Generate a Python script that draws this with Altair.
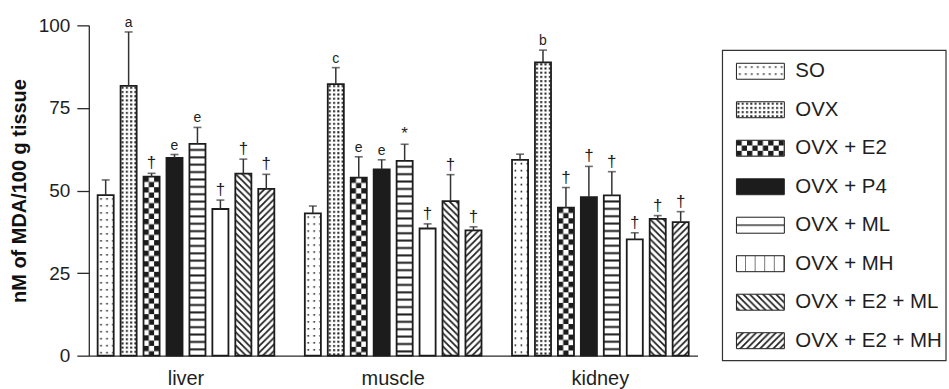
import base64

import altair as alt
import pandas as pd

# ---- data -------------------------------------------------------------
tissues = ["liver", "muscle", "kidney"]
groups = ["SO", "OVX", "OVX + E2", "OVX + P4", "OVX + ML", "OVX + MH",
          "OVX + E2 + ML", "OVX + E2 + MH"]

liver_mean = [48.6, 81.7, 54.2, 59.9, 64.1, 44.4, 55.1, 50.5]
liver_sem = [4.6, 16.3, 1.0, 1.0, 5.0, 2.7, 4.4, 4.4]
liver_sig = ["", "a", "†", "e", "e", "†", "†", "†"]

muscle_mean = [43.1, 82.2, 53.9, 56.4, 59.0, 38.5, 46.8, 37.9]
muscle_sem = [2.2, 5.0, 6.3, 2.9, 5.0, 1.4, 8.0, 1.1]
muscle_sig = ["", "c", "e", "e", "*", "†", "†", "†"]

kidney_mean = [59.3, 88.8, 44.8, 48.0, 48.5, 35.2, 41.4, 40.4]
kidney_sem = [1.7, 3.7, 6.1, 9.3, 7.2, 2.0, 1.0, 3.2]
kidney_sig = ["", "b", "†", "†", "†", "†", "†", "†"]

y_ticks = [0, 25, 50, 75, 100]

rows = []
for tissue, means, sems, sigs in [
    ("liver", liver_mean, liver_sem, liver_sig),
    ("muscle", muscle_mean, muscle_sem, muscle_sig),
    ("kidney", kidney_mean, kidney_sem, kidney_sig),
]:
    for g, m, s, sig in zip(groups, means, sems, sigs):
        rows.append({"tissue": tissue, "group": g, "mean": m, "sem": s, "sig": sig})
df = pd.DataFrame(rows)


# ---- hatch fills as small SVG tiles ---------------------------------------
def tile(w, h, body, bg="white"):
    svg = (
        "<svg xmlns='http://www.w3.org/2000/svg'>"
        f"<defs><pattern id='p' patternUnits='userSpaceOnUse' width='{w}' height='{h}'>"
        f"{body}</pattern></defs>"
        f"<rect width='100%' height='100%' fill='{bg}'/>"
        "<rect width='100%' height='100%' fill='url(#p)'/></svg>"
    )
    return "data:image/svg+xml;base64," + base64.b64encode(svg.encode()).decode()


INK = "#1c1c1c"
sparse_dots = tile(6.0, 7.0, f"<rect x='2.6' y='3' width='1.6' height='1.6' fill='{INK}'/>")
dense_dots = tile(4.3, 4.2, f"<rect x='1' y='1' width='2' height='2' fill='{INK}'/>")
checker = tile(10.6, 10.6, f"<rect x='0' y='0' width='5.3' height='5.3' fill='{INK}'/>"
                           f"<rect x='5.3' y='5.3' width='5.3' height='5.3' fill='{INK}'/>")
solid = tile(4, 4, f"<rect width='4' height='4' fill='{INK}'/>")
h_lines = tile(10, 7.4, f"<rect x='0' y='5' width='10' height='2' fill='{INK}'/>")
h_line_key = tile(10, 16, f"<rect x='0' y='7.3' width='10' height='1.3' fill='{INK}'/>")
blank = tile(4, 4, "")
v_lines = tile(9.6, 10, f"<rect x='9' y='0' width='1.2' height='10' fill='{INK}'/>")
back_diag = tile(6.6, 6.6, f"<path d='M-1,-1 L7.6,7.6 M-1,5.6 L1,7.6 M5.6,-1 L7.6,1' "
                           f"stroke='{INK}' stroke-width='1.7'/>")
fwd_diag = tile(6.6, 6.6, f"<path d='M-1,7.6 L7.6,-1 M-1,1 L1,-1 M5.6,7.6 L7.6,5.6' "
                          f"stroke='{INK}' stroke-width='1.7'/>")

bar_fill = pd.DataFrame({
    "group": groups,
    "pat": [sparse_dots, dense_dots, checker, solid, h_lines, blank, back_diag, fwd_diag],
})
key_fill = pd.DataFrame({
    "group": groups,
    "pat": [sparse_dots, dense_dots, checker, solid, h_line_key, v_lines, back_diag, fwd_diag],
})

FONT = "Liberation Sans"
AXIS_COLOR = "#2a2a2a"
TEXT_COLOR = "#1e1e1e"

# ---- main grouped bar panel ---------------------------------------------
x_enc = alt.X(
    "tissue:N", sort=tissues,
    scale=alt.Scale(paddingInner=0.114, paddingOuter=0.026),
    axis=alt.Axis(title=None, labelAngle=0, ticks=False, labelFontSize=20,
                  labelPadding=13, labelColor=TEXT_COLOR, domainColor=AXIS_COLOR,
                  domainWidth=1.3, labelFont=FONT),
)
xo_enc = alt.XOffset("group:N", sort=groups,
                     scale=alt.Scale(paddingInner=0.3, paddingOuter=0.15))
y_scale = alt.Scale(domain=[0, 100], nice=False)

base = alt.Chart(df).encode(x=x_enc, xOffset=xo_enc)

fills = base.transform_lookup(
    lookup="group", from_=alt.LookupData(bar_fill, key="group", fields=["pat"])
).mark_image(aspect=False).encode(
    y=alt.Y("mean:Q", scale=y_scale,
            axis=alt.Axis(values=y_ticks, tickSize=12, grid=False, labelFontSize=19,
                          labelFont=FONT, labelColor=TEXT_COLOR, labelPadding=7,
                          domainColor=AXIS_COLOR, tickColor=AXIS_COLOR,
                          domainWidth=1.3, tickWidth=1.3,
                          title="nM of MDA/100 g tissue", titleFont=FONT,
                          titleFontSize=20, titleFontWeight="bold",
                          titleColor="#111", titlePadding=9)),
    y2=alt.datum(0),
    url="pat:N",
)

outlines = base.mark_bar(fillOpacity=0, stroke=INK, strokeWidth=1.8).encode(
    y=alt.Y("mean:Q", scale=y_scale), y2=alt.datum(0)
)

with_top = base.transform_calculate(top="datum.mean + datum.sem")

whiskers = with_top.mark_rule(color="#333", strokeWidth=1.5).encode(
    y=alt.Y("mean:Q", scale=y_scale), y2="top:Q"
)
caps = with_top.mark_tick(color="#333", size=8, thickness=1.6).encode(
    y=alt.Y("top:Q", scale=y_scale)
)
sig_marks = with_top.transform_calculate(
    fs="(datum.sig == '†' || datum.sig == '*') ? 17 : 14"
).mark_text(baseline="alphabetic", dy=-5, font=FONT, color=TEXT_COLOR).encode(
    y=alt.Y("top:Q", scale=y_scale),
    text="sig:N",
    size=alt.Size("fs:Q", scale=None, legend=None),
)

main = alt.layer(fills, outlines, whiskers, caps, sig_marks).properties(
    width=610, height=331, view=alt.ViewBackground(stroke="transparent")
)

# ---- boxed key with hatch swatches ---------------------------------------
key_base = alt.Chart(key_fill).encode(
    y=alt.Y("group:N", sort=groups, axis=None,
            scale=alt.Scale(paddingInner=0.585, paddingOuter=0.648, align=0.76))
)
key_swatch = key_base.mark_image(aspect=False).encode(
    x=alt.value(14), x2=alt.value(62), url="pat:N"
)
key_edge = key_base.mark_bar(fillOpacity=0, stroke=INK, strokeWidth=1).encode(
    x=alt.value(14), x2=alt.value(62)
)
key_text = key_base.mark_text(align="left", fontSize=20.5, font=FONT, color=TEXT_COLOR).encode(
    x=alt.value(73), text="group:N"
)
key_frame = alt.Chart(key_fill).transform_aggregate(n="count()").mark_rect(
    fillOpacity=0, stroke="#333", strokeWidth=1.2
).encode(x=alt.value(0), x2=alt.value(224), y=alt.value(25), y2=alt.value(336))

key = alt.layer(key_frame, key_swatch, key_edge, key_text).properties(
    width=225, height=336, view=alt.ViewBackground(stroke="transparent"),
)

chart = alt.hconcat(main, key, spacing=25, bounds="flush").properties(
    padding={"left": 8, "top": 15, "right": 1, "bottom": 0},
    background="white",
)

chart.save("out.html", embed_options={"renderer": "svg", "actions": False})
